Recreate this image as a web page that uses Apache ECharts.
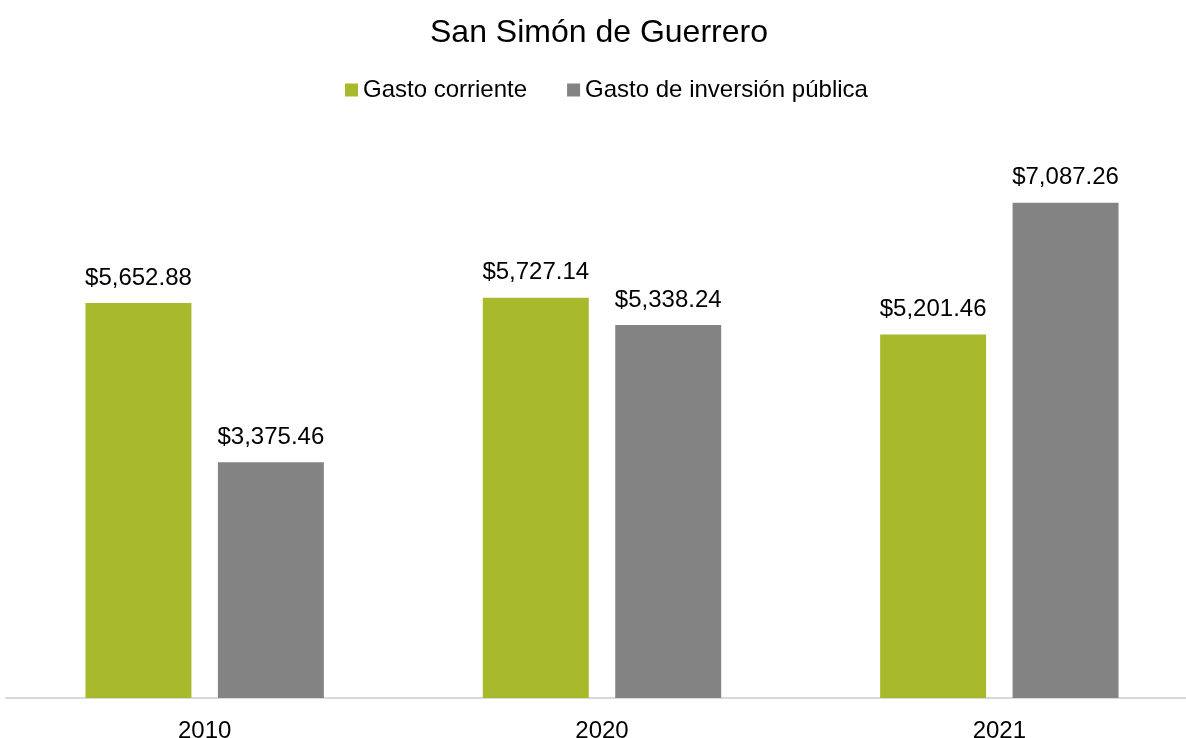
<!DOCTYPE html>
<html>
<head>
<meta charset="utf-8">
<script src="https://cdn.jsdelivr.net/npm/echarts@6/dist/echarts.min.js"></script>
<style>
  html, body { margin: 0; padding: 0; background: #fff; overflow: hidden; }
  #chart { width: 1198px; height: 738px; }
</style>
</head>
<body>
<div id="chart"></div>
<script>
const years = ['2010', '2020', '2021']
const gastoCorriente = [5652.88, 5727.14, 5201.46]
const gastoInversion = [3375.46, 5338.24, 7087.26]

const fmt = v => '$' + v.toLocaleString('en-US', { minimumFractionDigits: 2, maximumFractionDigits: 2 })

const chart = echarts.init(document.getElementById('chart'))
const font = 'Liberation Sans, Arial, sans-serif'

const label = {
  show: true,
  position: 'top',
  distance: 13,
  color: '#000',
  fontSize: 24,
  fontFamily: font,
  formatter: p => fmt(p.value)
}

chart.setOption({
  animation: false,
  title: {
    text: 'San Simón de Guerrero',
    left: 'center',
    top: 12,
    textStyle: { fontSize: 32, fontWeight: 'normal', color: '#000', fontFamily: font }
  },
  legend: {
    top: 73,
    left: 340,
    itemWidth: 13,
    itemHeight: 13,
    itemGap: 40,
    icon: 'rect',
    textStyle: { fontSize: 24, color: '#000', fontFamily: font }
  },
  grid: { left: 6, right: 0, top: 139, bottom: 40, containLabel: false, outerBoundsMode: 'none' },
  xAxis: {
    type: 'category',
    data: years,
    axisLine: { lineStyle: { color: '#d9d9d9', width: 2 } },
    axisTick: { show: false },
    axisLabel: { fontSize: 24, color: '#000', fontFamily: font, margin: 21 }
  },
  yAxis: {
    type: 'value',
    min: 0,
    max: 8000,
    show: false,
    splitLine: { show: false }
  },
  series: [
    {
      name: 'Gasto corriente',
      type: 'bar',
      data: gastoCorriente,
      itemStyle: { color: '#a8b92b' },
      barGap: '25%',
      barCategoryGap: '40%',
      label
    },
    {
      name: 'Gasto de inversión pública',
      type: 'bar',
      data: gastoInversion,
      itemStyle: { color: '#838383' },
      label
    }
  ]
})
</script>
</body>
</html>
